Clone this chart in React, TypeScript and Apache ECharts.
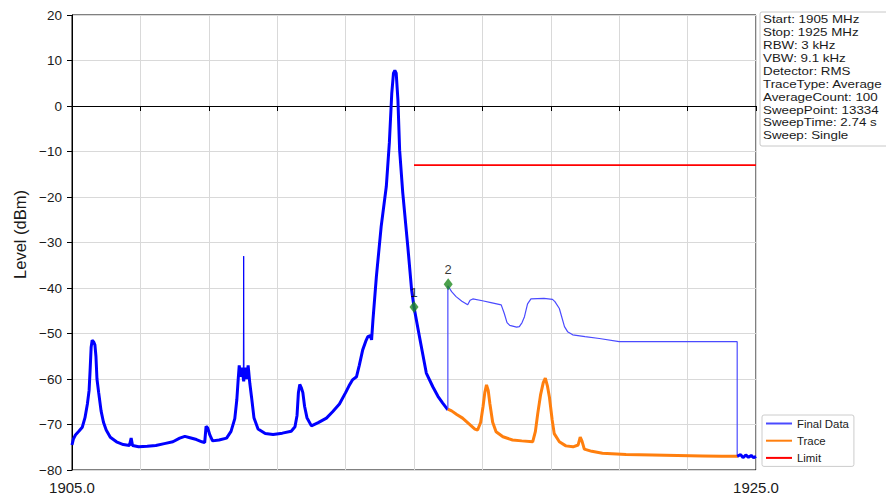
import React, { useEffect, useRef } from "react";
import * as echarts from "echarts";

const FONT = "'Liberation Sans', Arial, sans-serif";

// Final Data (noisy, thick part up to marker 2)
const finalDataLeft: [number, number][] = [
  [1905.0, -74.5], [1905.04, -73.2], [1905.1, -72.3], [1905.2, -71.5], [1905.3, -70.6],
  [1905.38, -68.5], [1905.45, -65.5], [1905.5, -62.5], [1905.53, -58], [1905.56, -53],
  [1905.59, -51.5], [1905.63, -51.8], [1905.67, -52.5], [1905.7, -55], [1905.73, -60],
  [1905.78, -63], [1905.85, -67], [1905.92, -69.5], [1906.0, -71.2], [1906.12, -72.8],
  [1906.3, -73.8], [1906.5, -74.4], [1906.68, -74.6], [1906.73, -73], [1906.77, -74.6],
  [1906.95, -74.9], [1907.2, -74.8], [1907.45, -74.6], [1907.7, -74.2], [1907.95, -73.8],
  [1908.15, -73], [1908.3, -72.6], [1908.45, -72.9], [1908.64, -73.3], [1908.8, -73.8],
  [1908.88, -74], [1908.92, -70.4], [1908.97, -70.8], [1909.03, -72.3], [1909.11, -73.6],
  [1909.3, -73.4], [1909.52, -73], [1909.65, -71.5], [1909.76, -68.7], [1909.82, -64.5],
  [1909.86, -60], [1909.89, -57], [1909.93, -59.5], [1909.97, -57.5], [1910.02, -60.5],
  [1910.07, -57.5], [1910.11, -60], [1910.15, -57], [1910.2, -61], [1910.25, -64],
  [1910.32, -68.5], [1910.44, -71], [1910.65, -72], [1910.88, -72.2], [1911.15, -71.9],
  [1911.41, -71.5], [1911.52, -70.5], [1911.58, -68], [1911.62, -63], [1911.66, -61.2],
  [1911.71, -62], [1911.75, -63], [1911.8, -66], [1911.87, -68.5], [1912.0, -70.3],
  [1912.2, -69.6], [1912.44, -68.6], [1912.62, -67.2], [1912.82, -65.5], [1913.0, -63],
  [1913.1, -61.5], [1913.2, -60.2], [1913.32, -59.5], [1913.4, -57], [1913.5, -53.6],
  [1913.6, -51.5], [1913.65, -50.7], [1913.72, -50.5], [1913.76, -51.4], [1913.8, -47],
  [1913.9, -37.5], [1914.04, -26.5], [1914.19, -17.7], [1914.28, -8], [1914.35, 2.8],
  [1914.4, 7.2], [1914.44, 7.8], [1914.48, 7.2], [1914.53, 1.3], [1914.58, -9.7],
  [1914.67, -19], [1914.82, -31], [1914.93, -40.4], [1915.0, -44.2], [1915.16, -50.7],
  [1915.36, -58.7], [1915.55, -61.7], [1915.7, -63.8], [1915.84, -65.3], [1915.99, -66.8],
];

// Final Data: narrow spike near 1910 MHz
const finalDataSpike: [number, number][] = [
  [1910.01, -59], [1910.02, -33], [1910.03, -59],
];

// Final Data: smooth part after marker 2
const finalDataMid: [number, number][] = [
  [1915.99, -66.8], [1915.99, -39.5], [1916.1, -40.8], [1916.23, -41.9], [1916.4, -42.9],
  [1916.57, -43.7], [1916.64, -42.7], [1916.72, -42.4], [1917.0, -42.8], [1917.25, -43.2],
  [1917.55, -43.7], [1917.64, -45.6], [1917.72, -47.6], [1917.8, -48.2], [1918.0, -48.6],
  [1918.08, -48.5], [1918.16, -47.6], [1918.23, -46.3], [1918.32, -43.5], [1918.42, -42.4],
  [1918.8, -42.3], [1919.05, -42.5], [1919.12, -43], [1919.25, -44.5], [1919.4, -48.5],
  [1919.49, -49.6], [1919.64, -50.3], [1920.0, -50.7], [1920.42, -51.1], [1921.0, -51.8],
  [1924.45, -51.8], [1924.45, -77],
];

// Final Data: noisy tail
const finalDataRight: [number, number][] = [
  [1924.45, -77], [1924.55, -76.6], [1924.62, -77.3], [1924.7, -76.7], [1924.78, -77.2],
  [1924.86, -76.8], [1924.93, -77.3], [1925.0, -77],
];

const traceData: [number, number][] = [
  [1915.99, -66.6], [1916.1, -67], [1916.25, -67.8], [1916.42, -68.6], [1916.6, -69.8],
  [1916.78, -71], [1916.86, -71.2], [1916.95, -69.5], [1917.02, -66], [1917.07, -63],
  [1917.12, -61.3], [1917.17, -62.5], [1917.22, -65.5], [1917.3, -69.5], [1917.4, -71.6],
  [1917.6, -72.7], [1917.88, -73.4], [1918.15, -73.6], [1918.47, -73.8], [1918.55, -71.5],
  [1918.62, -67.5], [1918.7, -63.5], [1918.78, -60.8], [1918.84, -59.8], [1918.9, -61.5],
  [1918.96, -64], [1919.04, -69], [1919.1, -72], [1919.25, -73.8], [1919.44, -74.7],
  [1919.65, -74.9], [1919.8, -74.5], [1919.86, -72.8], [1919.91, -73.6], [1919.98, -75.4],
  [1920.2, -75.9], [1920.51, -76.3], [1921.2, -76.6], [1921.97, -76.7], [1922.7, -76.8],
  [1923.43, -76.9], [1924.0, -77], [1924.47, -77],
];

const limitData: [number, number][] = [[1915, -13], [1925, -13]];

const markerData: [number, number][] = [[1915.0, -44.2], [1916.0, -39.2]];
const markerLabels = ["1", "2"];

const infoLines = [
  "Start: 1905 MHz",
  "Stop: 1925 MHz",
  "RBW: 3 kHz",
  "VBW: 9.1 kHz",
  "Detector: RMS",
  "TraceType: Average",
  "AverageCount: 100",
  "SweepPoint: 13334",
  "SweepTime: 2.74 s",
  "Sweep: Single",
];

const legendNames = ["Final Data", "Trace", "Limit"];

const BLUE = "#0000ff";
const ORANGE = "#ff7f0e";
const RED = "#ff0000";
const GREEN = "#1f8a1f";

export default function App() {
  const ref = useRef<HTMLDivElement>(null);
  useEffect(() => {
    const chart = echarts.init(ref.current!, null, { renderer: "svg" });
    const infoTexts = infoLines.map((line, i) => ({
      type: "text",
      x: 763,
      y: 13.5 + i * 12.9,
      scaleX: 1.15,
      z: 11,
      style: {
        text: line,
        fontSize: 11.6,
        fontFamily: FONT,
        fill: "#1a1a1a",
      },
    }));
    const option: any = {
      animation: false,
      backgroundColor: "#ffffff",
      textStyle: { fontFamily: FONT },
      grid: {
        left: 72,
        right: 130,
        top: 15,
        bottom: 32,
        show: true,
        borderColor: "#000",
        borderWidth: 1,
        backgroundColor: "transparent",
      },
      xAxis: {
        type: "value",
        min: 1905,
        max: 1925,
        interval: 2,
        axisLine: { show: true, lineStyle: { color: "#000", width: 1 } },
        axisTick: { show: true, inside: false, length: 5, lineStyle: { color: "#000" } },
        axisLabel: {
          margin: 10,
          color: "#1a1a1a",
          fontSize: 15,
          fontFamily: FONT,
          showMinLabel: true,
          showMaxLabel: true,
          formatter: (v: number) => (v === 1905 || v === 1925 ? v.toFixed(1) : ""),
        },
        splitLine: { show: true, lineStyle: { color: "#d9d9d9", width: 1 } },
      },
      yAxis: {
        type: "value",
        min: -80,
        max: 20,
        interval: 10,
        name: "Level (dBm)",
        nameLocation: "middle",
        nameGap: 41,
        nameTextStyle: {
          fontSize: 16.5,
          color: "#1a1a1a",
          fontFamily: FONT,
          padding: [0, 0, 0, 16],
        },
        axisLine: { show: true, lineStyle: { color: "#000", width: 1 } },
        axisTick: { show: true, inside: false, length: 5, lineStyle: { color: "#000" } },
        axisLabel: {
          margin: 10,
          color: "#1a1a1a",
          fontSize: 13.5,
          fontFamily: FONT,
          formatter: (v: number) => (v < 0 ? "\u2212" + Math.abs(v) : String(v)),
        },
        splitLine: { show: true, lineStyle: { color: "#d9d9d9", width: 1 } },
      },
      legend: {
        data: legendNames,
        orient: "vertical",
        left: 762,
        top: 415,
        icon: "rect",
        padding: [3, 5, 3, 4],
        itemWidth: 26,
        itemHeight: 2,
        itemGap: 6.2,
        backgroundColor: "rgba(255,255,255,0.9)",
        borderColor: "#cccccc",
        borderWidth: 1,
        borderRadius: 2,
        textStyle: { fontSize: 11.4, color: "#1a1a1a", fontFamily: FONT },
      },
      series: [
        {
          name: "Final Data",
          type: "line",
          data: finalDataLeft,
          symbol: "none",
          lineStyle: { color: BLUE, width: 3 },
          itemStyle: { color: "#4a4aff" },
          z: 3,
        },
        {
          name: "Final Data",
          type: "line",
          data: finalDataSpike,
          symbol: "none",
          lineStyle: { color: BLUE, width: 1 },
          itemStyle: { color: "#4a4aff" },
          z: 3,
        },
        {
          name: "Final Data",
          type: "line",
          data: finalDataMid,
          symbol: "none",
          lineStyle: { color: "#4a4aff", width: 1.2 },
          itemStyle: { color: "#4a4aff" },
          z: 3,
        },
        {
          name: "Final Data",
          type: "line",
          data: finalDataRight,
          symbol: "none",
          lineStyle: { color: BLUE, width: 3 },
          itemStyle: { color: "#4a4aff" },
          z: 4,
        },
        {
          name: "Trace",
          type: "line",
          data: traceData,
          symbol: "none",
          lineStyle: { color: ORANGE, width: 3 },
          itemStyle: { color: ORANGE },
          z: 3,
        },
        {
          name: "Limit",
          type: "line",
          data: limitData,
          symbol: "none",
          lineStyle: { color: RED, width: 1.6 },
          itemStyle: { color: RED },
          z: 3,
        },
        {
          name: "Markers",
          type: "scatter",
          data: markerData,
          symbol: "diamond",
          symbolSize: [9, 12],
          itemStyle: { color: GREEN },
          z: 5,
          label: {
            show: true,
            position: "top",
            distance: 2,
            fontSize: 13,
            color: "#000000",
            fontFamily: FONT,
            formatter: (p: any) => markerLabels[p.dataIndex],
          },
        },
      ],
      graphic: [
        {
          type: "rect",
          shape: { x: 760, y: 12, width: 140, height: 134, r: 2 },
          style: { fill: "#ffffff", stroke: "#c8c8c8", lineWidth: 1 },
          z: 10,
        },
        ...infoTexts,
      ],
    };
    chart.setOption(option);
    return () => chart.dispose();
  }, []);
  return (
    <div
      ref={ref}
      style={{ position: "fixed", left: 0, top: 0, width: 886, height: 502, background: "#fff" }}
    />
  );
}
